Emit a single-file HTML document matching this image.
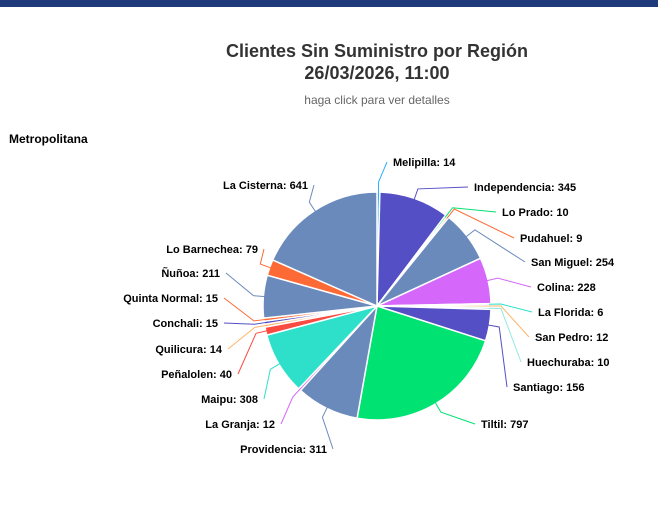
<!DOCTYPE html>
<html><head><meta charset="utf-8"><style>
html,body{margin:0;padding:0;background:#fff;width:658px;height:526px;overflow:hidden}
svg{display:block;font-family:"Liberation Sans",sans-serif}
</style></head><body>
<svg id="s" width="658" height="526" xmlns="http://www.w3.org/2000/svg">
<rect x="0" y="0" width="658" height="7" fill="#1f3a7a"/>
<text x="377" y="57" text-anchor="middle" font-size="18" font-weight="bold" fill="#333">Clientes Sin Suministro por Región</text>
<text x="377" y="79" text-anchor="middle" font-size="18" font-weight="bold" fill="#333">26/03/2026, 11:00</text>
<text x="377" y="104" text-anchor="middle" font-size="12" fill="#666">haga click para ver detalles</text>
<text x="9" y="143" font-size="12" font-weight="bold" fill="#000">Metropolitana</text>
<g id="pie"></g>
</svg>
<script>
var d=[
["Melipilla",14,"#2caffe",1,393,162],
["Independencia",345,"#544fc5",1,474,187],
["Lo Prado",10,"#00e272",1,502,212],
["Pudahuel",9,"#fe6a35",1,520,238],
["San Miguel",254,"#6b8abc",1,531,262],
["Colina",228,"#d568fb",1,537,287],
["La Florida",6,"#2ee0ca",1,538,312],
["San Pedro",12,"#feb56a",1,535,337],
["Huechuraba",10,"#91e8e1",1,527,362],
["Santiago",156,"#544fc5",1,513,387],
["Tiltil",797,"#00e272",1,481,424],
["Providencia",311,"#6b8abc",0,327,449],
["La Granja",12,"#d568fb",0,275,424],
["Maipu",308,"#2ee0ca",0,258,399],
["Peñalolen",40,"#fa4b42",0,232,374],
["Quilicura",14,"#feb56a",0,222,349],
["Conchali",15,"#544fc5",0,218,323],
["Quinta Normal",15,"#fe6a35",0,218,298],
["Ñuñoa",211,"#6b8abc",0,220,273],
["Lo Barnechea",79,"#fe6a35",0,258,249],
["La Cisterna",641,"#6b8abc",0,308,185]];
var tot=0;d.forEach(function(e){tot+=e[1]});
var cx=377,cy=306,r=114,a=-Math.PI/2,h='',l='';
d.forEach(function(e){
 var s=e[1]/tot*2*Math.PI,b=a+s,m=a+s/2;
 var x1=cx+r*Math.cos(a),y1=cy+r*Math.sin(a),x2=cx+r*Math.cos(b),y2=cy+r*Math.sin(b);
 h+='<path d="M'+cx+','+cy+'L'+x1+','+y1+'A'+r+','+r+' 0 '+(s>Math.PI?1:0)+' 1 '+x2+','+y2+'Z" fill="'+e[2]+'" stroke="#fff" stroke-width="1.5"/>';
 var px=cx+(r-2)*Math.cos(m),py=cy+(r-2)*Math.sin(m),qx=cx+(r+10)*Math.cos(m),qy=cy+(r+10)*Math.sin(m);
 var ex=e[3]?e[4]-6:e[4]+6,ty=e[5];
 l+='<path d="M'+px+','+py+'L'+qx+','+qy+'L'+ex+','+ty+'" fill="none" stroke="'+e[2]+'" stroke-width="1"/>';
 l+='<text x="'+e[4]+'" y="'+(ty+4)+'" text-anchor="'+(e[3]?'start':'end')+'" font-size="11" font-weight="bold" fill="#000">'+e[0]+': '+e[1]+'</text>';
 a=b;});
document.getElementById('pie').innerHTML=h+l;
</script>
</body></html>
